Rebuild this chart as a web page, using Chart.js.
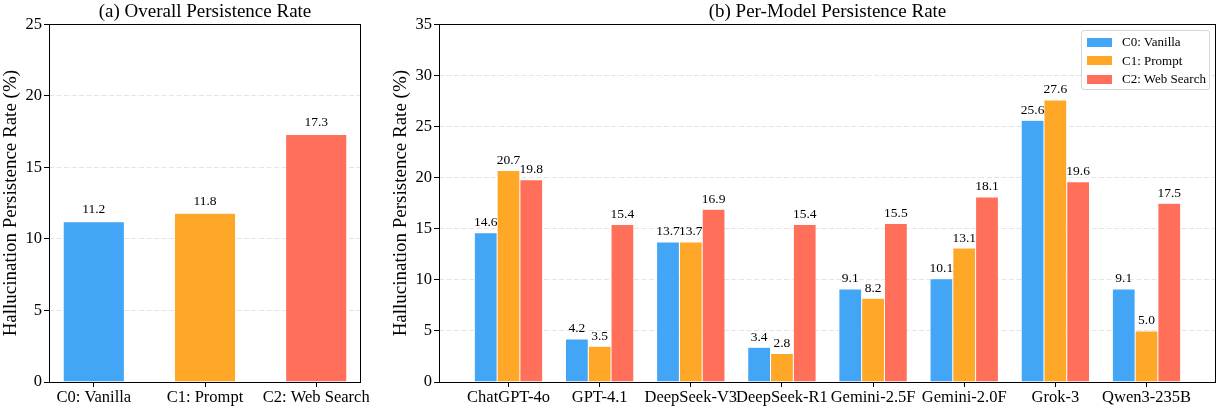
<!DOCTYPE html>
<html lang="en">

<head>
    <meta charset="UTF-8">
    <title>Hallucination Persistence Rate</title>
    <style>
        body {
            margin: 0;
            padding: 0;
            background-color: #ffffff;
            font-family: 'Liberation Serif', serif;
        }

        .panel {
            position: absolute;
            top: 0;
            height: 408px;
        }

        #panelA { left: 0; width: 380px; }
        #panelB { left: 380px; width: 840px; }

        .legend {
            position: absolute;
            left: 1081px;
            top: 30px;
            width: 127px;
            height: 56px;
            border: 1px solid #d6d6d6;
            border-radius: 3px;
            background: rgba(255, 255, 255, 0.8);
            padding-top: 2px;
            box-sizing: content-box;
        }

        .legend-row {
            display: flex;
            align-items: center;
            height: 18.5px;
            font-size: 13px;
            color: #000;
        }

        .legend-swatch {
            width: 25px;
            height: 9px;
            margin-left: 5px;
            margin-right: 10px;
        }
    </style>
</head>

<body>
    <div class="panel" id="panelA"><canvas id="overallChart" width="380" height="408"></canvas></div>
    <div class="panel" id="panelB"><canvas id="modelChart" width="840" height="408"></canvas></div>
    <div class="legend" id="legend"></div>

    <script src="https://cdn.jsdelivr.net/npm/chart.js"></script>
    <script>
        // data
        const conditions = ['C0: Vanilla', 'C1: Prompt', 'C2: Web Search'];
        const overallRates = [11.2, 11.8, 17.3];

        const models = ['ChatGPT-4o', 'GPT-4.1', 'DeepSeek-V3', 'DeepSeek-R1',
            'Gemini-2.5F', 'Gemini-2.0F', 'Grok-3', 'Qwen3-235B'];
        const vanillaRates = [14.6, 4.2, 13.7, 3.4, 9.1, 10.1, 25.6, 9.1];
        const promptRates = [20.7, 3.5, 13.7, 2.8, 8.2, 13.1, 27.6, 5.0];
        const webSearchRates = [19.8, 15.4, 16.9, 15.4, 15.5, 18.1, 19.6, 17.5];

        const overallTicks = [0, 5, 10, 15, 20, 25];
        const modelTicks = [0, 5, 10, 15, 20, 25, 30, 35];

        const colors = ['#42A5F5', '#FFA726', '#FF6F59'];
        const FONT = 'Liberation Serif';

        // number above each bar
        const barValueLabels = {
            id: 'barValueLabels',
            afterDatasetsDraw(chart) {
                const ctx = chart.ctx;
                const yScale = chart.scales.y;
                ctx.save();
                ctx.font = '13.5px "' + FONT + '"';
                ctx.fillStyle = '#000';
                ctx.textAlign = 'center';
                ctx.textBaseline = 'alphabetic';
                chart.data.datasets.forEach((ds, di) => {
                    chart.getDatasetMeta(di).data.forEach((bar, i) => {
                        const v = ds.data[i].y;
                        ctx.fillText(v.toFixed(1), bar.x, yScale.getPixelForValue(v + 0.5) - 1.5);
                    });
                });
                ctx.restore();
            }
        };

        // box around the plot area
        const frameBox = {
            id: 'frameBox',
            afterDraw(chart) {
                const { ctx, chartArea: a } = chart;
                ctx.save();
                ctx.strokeStyle = '#000';
                ctx.lineWidth = 1;
                ctx.strokeRect(Math.round(a.left) + 0.5, Math.round(a.top) + 0.5,
                    Math.round(a.right - a.left) - 1, Math.round(a.bottom - a.top));
                ctx.restore();
            }
        };

        function xAxis(labels, min, max) {
            return {
                type: 'linear',
                offset: false,
                min: min,
                max: max,
                afterBuildTicks: (scale) => { scale.ticks = labels.map((_, i) => ({ value: i })); },
                afterFit: (scale) => { scale.height = 26; },
                ticks: {
                    callback: (v) => labels[v] ?? '',
                    autoSkip: false,
                    maxRotation: 0,
                    minRotation: 0,
                    padding: 1,
                    color: '#000',
                    font: { family: FONT, size: 16.5 }
                },
                grid: { offset: false, drawOnChartArea: false, drawTicks: true, tickLength: 5, tickColor: '#000' },
                border: { display: false }
            };
        }

        function yAxis(ticks, axisWidth, titlePad) {
            return {
                min: ticks[0],
                max: ticks[ticks.length - 1],
                afterBuildTicks: (scale) => { scale.ticks = ticks.map(v => ({ value: v })); },
                afterFit: (scale) => { scale.width = axisWidth; },
                ticks: { padding: 2, color: '#000', font: { family: FONT, size: 16.5 } },
                grid: {
                    color: 'rgba(0,0,0,0.1)',
                    tickLength: 5,
                    tickColor: '#000',
                    tickBorderDash: []
                },
                border: { display: false, dash: [5, 2.5] },
                title: {
                    display: true,
                    text: 'Hallucination Persistence Rate (%)',
                    color: '#000',
                    padding: { top: titlePad, bottom: 0 },
                    font: { family: FONT, size: 19 }
                }
            };
        }

        function titleOpts(text) {
            return {
                display: true,
                text: text,
                color: '#000',
                fullSize: false,
                padding: { top: 1, bottom: 0.5 },
                font: { family: FONT, size: 19, weight: 'normal' }
            };
        }

        const toPoints = (arr) => arr.map((v, i) => ({ x: i, y: v }));
        const barEdge = { left: 0.5, right: 0.5, top: 0.5, bottom: 0 };

        // (a) overall
        new Chart(document.getElementById('overallChart'), {
            type: 'bar',
            data: {
                datasets: [{
                    data: toPoints(overallRates),
                    backgroundColor: colors,
                    borderColor: '#fff',
                    borderWidth: barEdge,
                    categoryPercentage: 0.55,
                    barPercentage: 1
                }]
            },
            options: {
                responsive: false,
                animation: false,
                layout: { padding: { left: 0, right: 19, top: 0, bottom: 0 } },
                plugins: {
                    legend: { display: false },
                    tooltip: { enabled: false },
                    title: titleOpts('(a) Overall Persistence Rate')
                },
                scales: {
                    x: xAxis(conditions, -0.4025, 2.4025),
                    y: yAxis(overallTicks, 49, 0)
                }
            },
            plugins: [barValueLabels, frameBox]
        });

        // (b) per model
        const seriesNames = ['C0: Vanilla', 'C1: Prompt', 'C2: Web Search'];
        const seriesValues = [vanillaRates, promptRates, webSearchRates];

        new Chart(document.getElementById('modelChart'), {
            type: 'bar',
            data: {
                datasets: seriesValues.map((vals, k) => ({
                    label: seriesNames[k],
                    data: toPoints(vals),
                    backgroundColor: colors[k],
                    borderColor: '#fff',
                    borderWidth: barEdge,
                    categoryPercentage: 0.75,
                    barPercentage: 1
                }))
            },
            options: {
                responsive: false,
                animation: false,
                layout: { padding: { left: 0, right: 4, top: 0, bottom: 0 } },
                plugins: {
                    legend: { display: false },
                    tooltip: { enabled: false },
                    title: titleOpts('(b) Per-Model Persistence Rate')
                },
                scales: {
                    x: xAxis(models, -0.7625, 7.7625),
                    y: yAxis(modelTicks, 59, 9.4)
                }
            },
            plugins: [barValueLabels, frameBox]
        });

        // legend box inside panel (b)
        const legend = document.getElementById('legend');
        seriesNames.forEach((name, k) => {
            const row = document.createElement('div');
            row.className = 'legend-row';
            const sw = document.createElement('span');
            sw.className = 'legend-swatch';
            sw.style.background = colors[k];
            const label = document.createElement('span');
            label.textContent = name;
            row.appendChild(sw);
            row.appendChild(label);
            legend.appendChild(row);
        });
    </script>
</body>

</html>
